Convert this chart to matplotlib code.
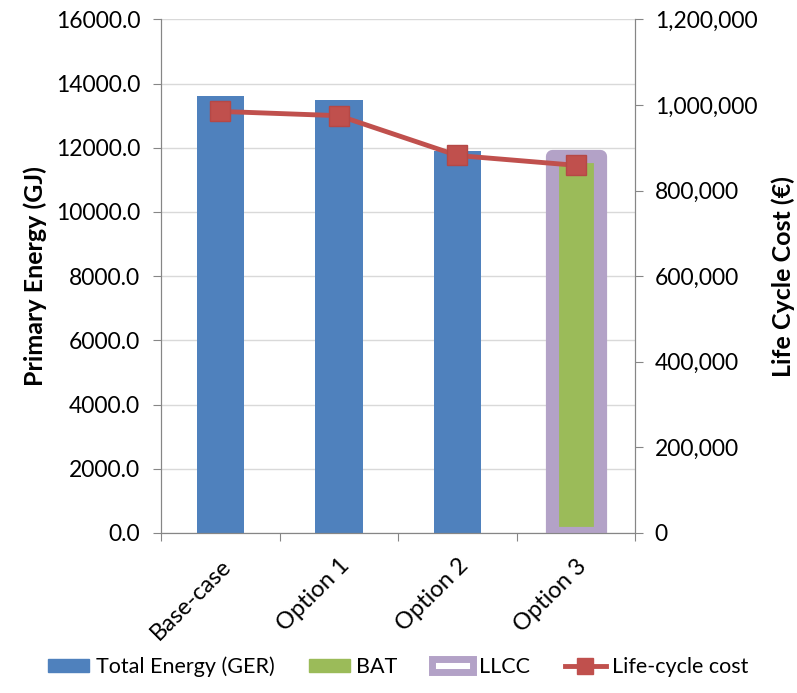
import matplotlib
matplotlib.use("Agg")
import matplotlib.pyplot as plt
from matplotlib.patches import Patch
from matplotlib.lines import Line2D
from matplotlib.ticker import FuncFormatter
import numpy as np

plt.rcParams['font.family'] = ['Lato', 'DejaVu Sans']

categories = ["Base-case", "Option 1", "Option 2", "Option 3"]
total_energy = [13600, 13480, 11900, None]
bat_energy = [None, None, None, 11750]
llcc_energy = [None, None, None, 11750]
life_cycle_cost = [985000, 975000, 882000, 859000]

blue = "#4F81BD"
green = "#9BBB59"
purple = "#B3A2C7"
red = "#C0504D"
grid_gray = "#D9D9D9"
axis_gray = "#868686"

fig = plt.figure(figsize=(7.97, 6.93), dpi=100)
ax = fig.add_axes([0.202, 0.231, 0.595, 0.741])
ax2 = ax.twinx()

x = np.arange(len(categories))
width = 0.40

te_x = [xi for xi, v in zip(x, total_energy) if v is not None]
te_v = [v for v in total_energy if v is not None]
ax.bar(te_x, te_v, width=width, color=blue, zorder=2)

bat_x = [xi for xi, v in zip(x, bat_energy) if v is not None]
bat_v = [v for v in bat_energy if v is not None]
ax.bar(bat_x, bat_v, width=width, color=green, zorder=2)

ll_x = [xi for xi, v in zip(x, llcc_energy) if v is not None]
ll_v = [v for v in llcc_energy if v is not None]
ax.bar(ll_x, ll_v, width=width, facecolor="none", edgecolor=purple,
       linewidth=9.5, joinstyle="round", zorder=3)

ax.set_xlim(-0.5, len(categories) - 0.5)
ax.set_ylim(0, 16000)
ax.set_yticks(np.arange(0, 16001, 2000))
ax.yaxis.set_major_formatter(FuncFormatter(lambda v, p: f"{v:.1f}"))
ax.yaxis.grid(True, color=grid_gray, linewidth=1.0, zorder=0)
ax.set_axisbelow(True)

ax.set_xticks(np.arange(-0.5, len(categories) + 0.5, 1), minor=False)
ax.set_xticklabels([])
ax.set_xticks(x, minor=True)
ax.set_xticklabels(categories, minor=True, rotation=45, ha="right",
                   rotation_mode="anchor", fontsize=17)
ax.tick_params(axis="x", which="minor", length=0, pad=16)
ax.tick_params(axis="x", which="major", length=6, color=axis_gray, direction="out")
ax.tick_params(axis="y", labelsize=16.5, length=6, color=axis_gray, direction="out", pad=9)

ax2.plot(x, life_cycle_cost, color=red, linewidth=3.5, marker="s",
         markersize=15, markerfacecolor=red, markeredgecolor="#B54846", zorder=5)
ax2.set_ylim(0, 1200000)
ax2.set_yticks(np.arange(0, 1200001, 200000))
ax2.yaxis.set_major_formatter(FuncFormatter(lambda v, p: f"{int(v):,}"))
ax2.tick_params(axis="y", labelsize=16.5, length=6, color=axis_gray, direction="out", pad=8)

for a in (ax, ax2):
    a.spines["top"].set_visible(False)
    for s in ("left", "right", "bottom"):
        a.spines[s].set_color(axis_gray)
ax.set_zorder(ax2.get_zorder() - 1)
ax2.patch.set_visible(False)
ax.patch.set_visible(True)

ax.set_ylabel("Primary Energy (GJ)", fontsize=18, fontweight="bold", labelpad=6)
ax2.set_ylabel("Life Cycle Cost (€)", fontsize=18, fontweight="bold", labelpad=10)

handles = [
    Patch(facecolor=blue, edgecolor=blue, label="Total Energy (GER)"),
    Patch(facecolor=green, edgecolor=green, label="BAT"),
    Patch(facecolor="white", edgecolor=purple, linewidth=5, label="LLCC"),
    Line2D([0], [0], color=red, linewidth=3.5, marker="s", markersize=11,
           label="Life-cycle cost"),
]
fig.legend(handles=handles, loc="lower center", bbox_to_anchor=(0.5, -0.005),
           ncol=4, frameon=False, fontsize=15.5, handlelength=1.9,
           handleheight=0.6, handletextpad=0.3, columnspacing=1.6)

fig.savefig("out.png", dpi=100, facecolor="white")
